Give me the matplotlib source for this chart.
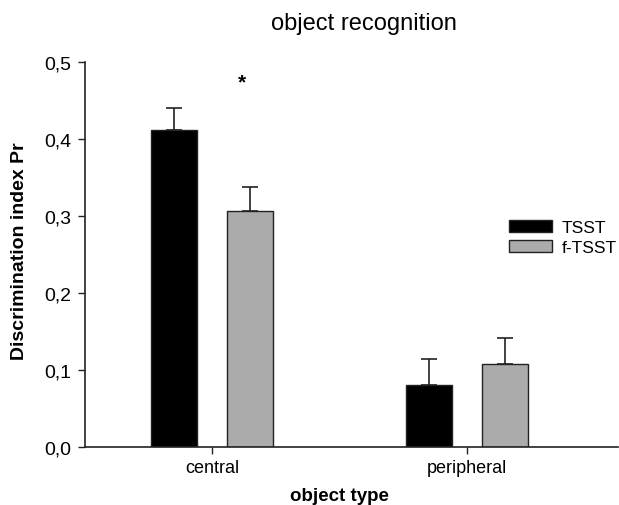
import matplotlib

matplotlib.use("Agg")
import matplotlib.pyplot as plt
import numpy as np

plt.rcParams["font.family"] = ["Liberation Sans", "DejaVu Sans"]

categories = ["central", "peripheral"]
groups = ["TSST", "f-TSST"]
means = {
    "TSST": [0.412, 0.080],
    "f-TSST": [0.306, 0.108],
}
errors = {
    "TSST": [0.028, 0.034],
    "f-TSST": [0.032, 0.034],
}
colors = {"TSST": "black", "f-TSST": "#ababab"}
y_ticks = [0.0, 0.1, 0.2, 0.3, 0.4, 0.5]

fig = plt.figure(figsize=(6.19, 5.06), dpi=100)
ax = fig.add_axes([0.137, 0.115, 0.862, 0.760])

x = np.arange(len(categories))
width = 0.18
offsets = {"TSST": -0.148, "f-TSST": 0.148}
for g in groups:
    ax.bar(x + offsets[g], means[g], width=width, color=colors[g],
           edgecolor="#222222", linewidth=1.0, label=g,
           yerr=[np.zeros(len(categories)), errors[g]],
           error_kw=dict(ecolor="#222222", elinewidth=1.2, capsize=5.5, capthick=1.2))

# significance marker over the central f-TSST bar
ax.text(0.118, 0.474, "*", ha="center", va="center", fontsize=15, fontweight="bold")

ax.set_xlim(-0.498, 1.592)
ax.set_ylim(0, 0.5)
ax.set_xticks(x)
ax.set_xticklabels(categories, fontsize=13)
ax.set_yticks(y_ticks)
ax.set_yticklabels([f"{v:.1f}".replace(".", ",") for v in y_ticks], fontsize=14)
ax.tick_params(direction="out", length=5, width=1, color="#222222")
ax.tick_params(axis="x", pad=4)
ax.tick_params(axis="y", pad=5)
for side in ("top", "right"):
    ax.spines[side].set_visible(False)
for side in ("left", "bottom"):
    ax.spines[side].set_linewidth(1.2)
    ax.spines[side].set_color("#222222")

ax.set_xlabel("object type", fontsize=13.5, fontweight="bold")
ax.xaxis.set_label_coords(0.478, -0.127)
ax.xaxis.label.set_va("center")
ax.set_ylabel("Discrimination index Pr", fontsize=14, fontweight="bold")
ax.yaxis.set_label_coords(-0.122, 0.51)
ax.yaxis.label.set_va("center")
fig.text(0.588, 0.953, "object recognition", ha="center", va="center", fontsize=17)

ax.legend(loc="center left", bbox_to_anchor=(0.822, 0.529), bbox_transform=fig.transFigure,
          frameon=False, fontsize=12.5, handlelength=2.5, handleheight=0.7,
          labelspacing=0.3, handletextpad=0.57, borderaxespad=0, borderpad=0)

fig.savefig("out.png", dpi=100)
